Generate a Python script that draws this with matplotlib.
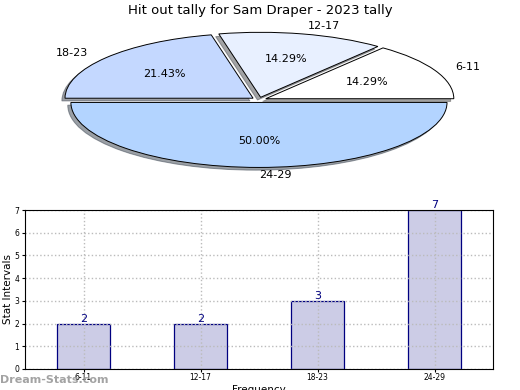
import matplotlib
matplotlib.use("Agg")
import matplotlib.pyplot as plt

categories = ["6-11", "12-17", "18-23", "24-29"]
counts = [2, 2, 3, 7]
pie_colors = ["#ffffff", "#e8f0ff", "#c4d8ff", "#b3d4ff"]
title = "Hit out tally for Sam Draper - 2023 tally"

fig = plt.figure(figsize=(5.2, 3.9), dpi=100)

# Pie (elliptical)
axp = fig.add_axes([0.064, 0.544, 0.868, 0.40])
wedges, texts, autotexts = axp.pie(
    counts, labels=categories, colors=pie_colors, autopct="%.2f%%",
    explode=[0.04] * 4, shadow={"ox": -0.012, "oy": -0.03},
    startangle=0, counterclock=True,
    labeldistance=1.12, pctdistance=0.6,
    wedgeprops=dict(edgecolor="black", linewidth=0.7),
    textprops=dict(fontsize=8))
axp.set_aspect("auto")
axp.set_xlim(-1.2, 1.2)
axp.set_ylim(-1.2, 1.2)
fig.text(0.5, 0.973, title, ha="center", va="center", fontsize=9.5)

# Bar chart
axb = fig.add_axes([25 / 520, 1 - 369 / 390, 468 / 520, 159 / 390])
x = list(range(len(categories)))
bars = axb.bar(x, counts, width=0.45, color="#ccccE6", edgecolor="navy", linewidth=0.9)
for xi, v in zip(x, counts):
    axb.text(xi, v, str(v), ha="center", va="bottom", color="navy", fontsize=8)
axb.set_xlim(-0.5, 3.5)
axb.set_ylim(0, 7)
axb.set_xticks(x)
axb.set_xticklabels(categories, fontsize=5.5)
axb.set_yticks(range(8))
axb.tick_params(axis="y", labelsize=5.5, length=2, pad=2)
axb.tick_params(axis="x", length=2, pad=1)
axb.grid(True, linestyle=":", color="#bbbbbb", linewidth=1)
axb.set_axisbelow(False)
for s in axb.spines.values():
    s.set_zorder(3)
axb.set_ylabel("Stat Intervals", fontsize=7.5, labelpad=1)
axb.set_xlabel("Frequency", fontsize=7.5, labelpad=2)

fig.text(0.0, 0.012, "Dream-Stats.com", fontsize=8, color="#999999",
         ha="left", va="bottom", fontweight="bold", alpha=0.9)

fig.savefig("out.png", dpi=100)
